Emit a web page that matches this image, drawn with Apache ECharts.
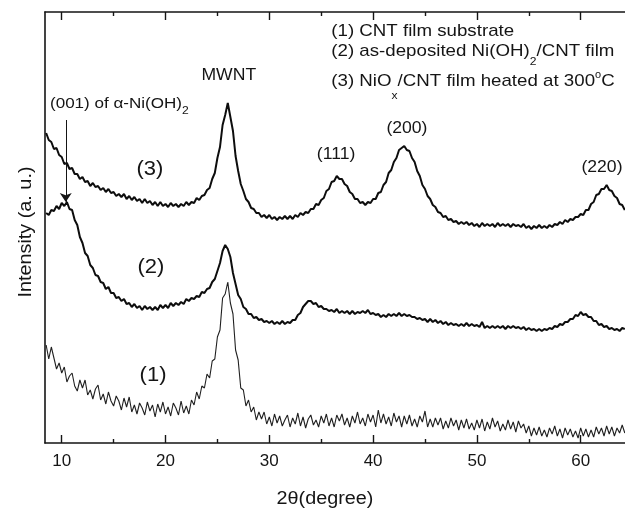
<!DOCTYPE html>
<html><head><meta charset="utf-8">
<script src="https://cdn.jsdelivr.net/npm/echarts@6/dist/echarts.min.js"></script>
<style>html,body{margin:0;padding:0;background:#fff}#c{width:625px;height:511px}</style>
</head><body><div id="c"></div>
<script>
// 2theta sampling grid of the scans (degrees)
const THETA_START = 8.5;
const THETA_STEP = 0.25;
const X_MIN = 8.39, X_MAX = 64.27;
const xMajorTicks = [10, 20, 30, 40, 50, 60];
const xMinorTicks = [15, 25, 35, 45, 55];

// (1) CNT film substrate
const curve1 = [
 98, 84,
 96, 85, 74, 80,
 70, 76, 61, 67,
 70, 57, 52, 63,
 55, 63, 48, 53,
 44, 54, 58, 43,
 49, 39, 51, 42,
 37, 47, 42, 33,
 45, 36, 46, 31,
 38, 29, 40, 35,
 28, 41, 32, 38,
 26, 39, 31, 41,
 29, 36, 27, 40,
 35, 28, 42, 30,
 37, 29, 43, 38,
 51, 44, 57, 55,
 69, 65, 82, 84,
 106, 113, 145, 149,
 161, 140, 129, 93,
 83, 55, 53, 37,
 43, 31, 36, 23,
 31, 24, 31, 19,
 26, 17, 29, 20,
 27, 17, 23, 28,
 16, 25, 19, 30,
 17, 26, 15, 24,
 28, 18, 23, 16,
 27, 20, 29, 17,
 25, 16, 28, 22,
 29, 18, 25, 16,
 27, 20, 31, 19,
 25, 17, 29, 21,
 28, 16, 33, 20,
 29, 19, 26, 17,
 30, 21, 27, 16,
 27, 19, 28, 17,
 24, 16, 27, 21,
 32, 16, 24, 16,
 25, 18, 25, 14,
 22, 15, 25, 17,
 23, 13, 23, 15,
 24, 14, 20, 13,
 23, 15, 24, 12,
 21, 14, 25, 16,
 22, 12, 19, 13,
 23, 14, 21, 11,
 22, 15, 19, 10,
 17, 7, 15, 8,
 16, 7, 13, 6,
 15, 9, 17, 7,
 14, 5, 15, 8,
 14, 6, 12, 5,
 15, 7, 14, 6,
 13, 6, 16, 9,
 15, 7, 17, 9,
 16, 7, 15, 10,
 18, 10
];

// (2) as-deposited Ni(OH)2/CNT film
const curve2 = [
 230, 228,
 233, 232, 237, 234,
 240, 237, 241, 234,
 233, 223, 218, 206,
 200, 190, 187, 178,
 175, 168, 167, 161,
 160, 154, 156, 150,
 150, 145, 146, 142,
 144, 139, 140, 136,
 139, 135, 137, 133,
 137, 134, 136, 133,
 136, 133, 138, 135,
 138, 135, 140, 137,
 140, 138, 141, 139,
 144, 142, 145, 144,
 147, 146, 151, 150,
 154, 155, 161, 164,
 172, 180, 192, 198,
 194, 186, 170, 159,
 148, 144, 136, 134,
 129, 129, 125, 126,
 123, 124, 121, 122,
 120, 122, 119, 121,
 119, 122, 119, 121,
 120, 123, 123, 128,
 130, 136, 139, 142,
 142, 139, 140, 136,
 137, 134, 134, 132,
 133, 131, 134, 130,
 132, 130, 132, 129,
 132, 129, 131, 130,
 132, 130, 133, 129,
 130, 128, 129, 126,
 128, 126, 129, 127,
 129, 127, 130, 127,
 129, 127, 128, 126,
 126, 124, 125, 123,
 124, 121, 124, 121,
 123, 120, 122, 119,
 121, 118, 120, 118,
 119, 117, 119, 117,
 120, 117, 119, 117,
 118, 116, 121, 115,
 117, 115, 117, 115,
 117, 115, 117, 114,
 117, 115, 117, 115,
 116, 114, 116, 113,
 115, 113, 114, 112,
 114, 112, 114, 113,
 115, 114, 117, 116,
 119, 118, 121, 121,
 124, 124, 128, 127,
 131, 128, 129, 126,
 126, 122, 122, 118,
 119, 116, 117, 114,
 115, 113, 114, 112,
 115, 114
];

// (3) NiOx/CNT film heated at 300 C
const curve3 = [
 310, 303,
 301, 294, 295, 288,
 286, 279, 280, 274,
 275, 269, 269, 264,
 266, 261, 262, 257,
 260, 256, 257, 253,
 255, 251, 254, 250,
 251, 247, 249, 246,
 249, 244, 247, 243,
 246, 242, 244, 240,
 244, 240, 242, 238,
 241, 237, 241, 237,
 239, 236, 240, 237,
 239, 236, 239, 237,
 241, 238, 241, 240,
 245, 243, 247, 248,
 253, 255, 264, 270,
 285, 296, 318, 328,
 340, 326, 312, 287,
 272, 259, 252, 244,
 241, 235, 234, 230,
 230, 226, 228, 225,
 228, 224, 226, 223,
 226, 224, 227, 224,
 227, 224, 228, 226,
 230, 228, 231, 230,
 234, 234, 239, 238,
 243, 245, 252, 254,
 261, 262, 267, 264,
 264, 259, 257, 251,
 249, 244, 244, 240,
 241, 238, 241, 240,
 244, 244, 250, 251,
 258, 261, 270, 273,
 281, 285, 293, 295,
 297, 293, 292, 285,
 281, 272, 267, 258,
 254, 247, 244, 238,
 236, 231, 230, 226,
 227, 223, 224, 221,
 222, 219, 221, 219,
 221, 218, 220, 217,
 219, 216, 220, 217,
 219, 217, 219, 216,
 220, 217, 219, 217,
 219, 216, 219, 217,
 218, 216, 219, 215,
 217, 214, 217, 215,
 218, 215, 217, 215,
 218, 216, 219, 218,
 221, 219, 223, 221,
 224, 223, 226, 226,
 229, 228, 233, 233,
 239, 241, 248, 249,
 254, 254, 258, 253,
 252, 247, 245, 239,
 238, 233
];

// simple annotations: [text, 2theta, intensity, fontSize]
const peakLabels = [
 ['(3)', 18.5, 274, 20],
 ['(2)', 18.6, 176, 20],
 ['(1)', 18.8, 68, 20],
 ['MWNT', 26.1, 367, 16],
 ['(111)', 36.43, 288, 16],
 ['(200)', 43.26, 314, 16],
 ['(220)', 62.05, 275, 16]
];
// arrow marking (001) of alpha-Ni(OH)2 : [2theta, from, to]
const arrowLine = [10.39, 323, 241];
// multi-part texts: anchor [2theta, intensity], parts [text, size, dy]
const richTexts = [
 {at: [8.87, 339], parts: [['(001) of \u03b1-Ni(OH)', 15.5, 0], ['2', 11, 7]]},
 {at: [35.97, 411.5], parts: [['(1) CNT film substrate', 17, 0]]},
 {at: [35.97, 392], parts: [['(2) as-deposited Ni(OH)', 17, 0], ['2', 11, 11], ['/CNT film', 17, 0]]},
 {at: [35.97, 362], parts: [['(3) NiO', 17, 0], ['x', 11, 15], ['/CNT film heated at 300', 17, 0], ['o', 10, -6], ['C', 17, 0]]}
];

const FONT = 'Liberation Sans, Arial, sans-serif';
const INK = '#151515';
const mk = arr => arr.map((v, i) => [THETA_START + i * THETA_STEP, v]);

const chart = echarts.init(document.getElementById('c'), null, {renderer: 'canvas'});

const baseX = {
  type: 'value', min: X_MIN, max: X_MAX, gridIndex: 0,
  splitLine: {show: false}
};
chart.setOption({
  animation: false,
  backgroundColor: '#fff',
  grid: {left: 45, right: 0, top: 12, bottom: 68, containLabel: false},
  xAxis: [
    Object.assign({}, baseX, {
      position: 'bottom',
      axisLine: {show: true, lineStyle: {color: INK, width: 1.6}},
      axisTick: {show: true, inside: true, length: 8, customValues: xMajorTicks, lineStyle: {color: INK, width: 1.4}},
      axisLabel: {show: true, customValues: xMajorTicks, margin: 10, fontSize: 17, color: INK, fontFamily: FONT}
    }),
    Object.assign({}, baseX, {
      position: 'bottom',
      axisLine: {show: false},
      axisTick: {show: true, inside: true, length: 4, customValues: xMinorTicks, lineStyle: {color: INK, width: 1.4}},
      axisLabel: {show: false}
    }),
    Object.assign({}, baseX, {
      position: 'top',
      axisLine: {show: true, lineStyle: {color: INK, width: 1.6}},
      axisTick: {show: true, inside: true, length: 8, customValues: xMajorTicks, lineStyle: {color: INK, width: 1.4}},
      axisLabel: {show: false}
    }),
    Object.assign({}, baseX, {
      position: 'top',
      axisLine: {show: false},
      axisTick: {show: true, inside: true, length: 4, customValues: xMinorTicks, lineStyle: {color: INK, width: 1.4}},
      axisLabel: {show: false}
    })
  ],
  yAxis: {
    type: 'value', min: 0, max: 431,
    axisLine: {show: true, lineStyle: {color: INK, width: 1.6}},
    axisTick: {show: false}, axisLabel: {show: false}, splitLine: {show: false}
  },
  series: [
    {type: 'line', name: '(1)', data: mk(curve1), xAxisIndex: 0, showSymbol: false, symbol: 'none',
     lineStyle: {color: '#202020', width: 1.1}, silent: true},
    {type: 'line', name: '(2)', data: mk(curve2), xAxisIndex: 0, showSymbol: false, symbol: 'none',
     lineStyle: {color: '#0d0d0d', width: 2}, silent: true,
     markLine: {
       silent: true, symbol: ['none', 'arrow'], symbolSize: 9,
       lineStyle: {color: INK, width: 1, type: 'solid'}, label: {show: false},
       emphasis: {disabled: true},
       data: [[{coord: [arrowLine[0], arrowLine[1]]}, {coord: [arrowLine[0], arrowLine[2]]}]]
     }},
    {type: 'line', name: '(3)', data: mk(curve3), xAxisIndex: 0, showSymbol: false, symbol: 'none',
     lineStyle: {color: '#0d0d0d', width: 2}, silent: true}
  ]
});

// text measuring for multi-part labels
const ctx = document.createElement('canvas').getContext('2d');
function tw(t, s) { ctx.font = s + 'px ' + FONT; return ctx.measureText(t).width; }
function toPx(p) { return chart.convertToPixel({xAxisIndex: 0, yAxisIndex: 0}, p); }
function textEl(t, x, y, s, align, extra) {
  return Object.assign({
    type: 'text', x: x, y: y, silent: true,
    style: {text: t, font: s + 'px ' + FONT, fill: INK, textAlign: align, textVerticalAlign: 'middle', align: align, verticalAlign: 'middle'}
  }, extra || {});
}
const SX = 1.1;
const graphics = [];
peakLabels.forEach(([t, x, y, s]) => {
  const p = toPx([x, y]);
  graphics.push(textEl(t, p[0], p[1], s, 'center', {scaleX: SX}));
});
richTexts.forEach(rt => {
  const p = toPx(rt.at);
  const children = [];
  let off = 0;
  rt.parts.forEach(([t, s, dy]) => {
    children.push(textEl(t, off, dy, s, 'left'));
    off += tw(t, s);
  });
  graphics.push({type: 'group', x: p[0], y: p[1], scaleX: SX, children: children, silent: true});
});
// axis titles
graphics.push(textEl('2\u03b8(degree)', 325, 499, 18, 'center', {scaleX: SX}));
graphics.push(textEl('Intensity (a. u.)', 26, 232, 18, 'center', {rotation: Math.PI / 2, scaleX: SX}));
chart.setOption({graphic: graphics});
</script>
</body></html>
